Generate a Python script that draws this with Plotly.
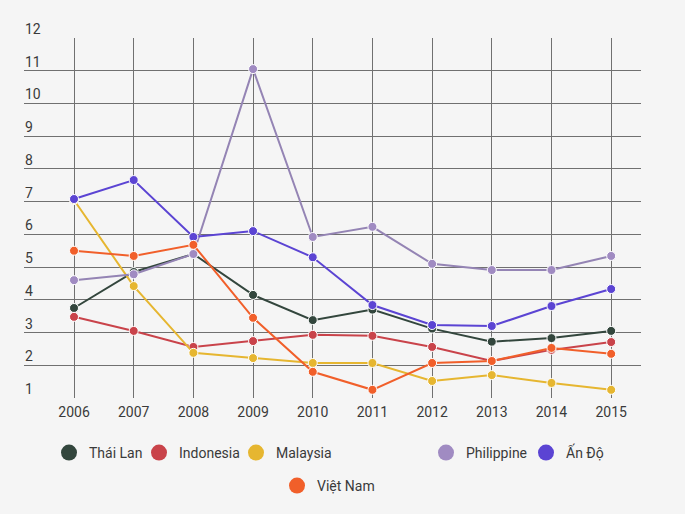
import plotly.graph_objects as go

years = ["2006", "2007", "2008", "2009", "2010", "2011", "2012", "2013", "2014", "2015"]
thai_lan = [3.75, 4.85, 5.4, 4.15, 3.38, 3.7, 3.12, 2.72, 2.83, 3.05]
indonesia = [3.48, 3.05, 2.56, 2.74, 2.93, 2.9, 2.56, 2.13, 2.47, 2.71]
malaysia = [7.05, 4.42, 2.38, 2.22, 2.07, 2.07, 1.52, 1.7, 1.46, 1.25]
philippine = [4.6, 4.78, 5.4, 11.05, 5.92, 6.23, 5.1, 4.91, 4.91, 5.34]
an_do = [7.08, 7.66, 5.92, 6.1, 5.3, 3.84, 3.23, 3.2, 3.81, 4.33]
viet_nam = [5.5, 5.34, 5.68, 3.45, 1.8, 1.25, 2.07, 2.13, 2.53, 2.35]
y_ticks = [1, 2, 3, 4, 5, 6, 7, 8, 9, 10, 11, 12]

series = [
    ("Thái Lan", thai_lan, "#33463d", "#33463d"),
    ("Indonesia", indonesia, "#c9434a", "#c9434a"),
    ("Malaysia", malaysia, "#e6b630", "#e6b630"),
    ("Philippine", philippine, "#a08bc2", "#9484b4"),
    ("Ấn Độ", an_do, "#5b44d3", "#5b44d3"),
    ("Việt Nam", viet_nam, "#f15f2a", "#f15f2a"),
]

TEXT = "#3a3a3a"
FS = 14
W, H = 685, 514
L, R, T, B = 24, 44, 38, 116
pw = W - L - R
ph = H - T - B

def px_x(p):
    return (p - L) / pw

def px_y(p):
    return (H - B - p) / ph

# legend entry positions (symbol centre in pixels)
legend_pos = [(70, 453), (160, 453), (257, 453), (447, 453), (547, 453), (298, 486)]

fig = go.Figure()
for name, vals, mcol, lcol in series:
    fig.add_trace(go.Scatter(
        x=years, y=vals, mode="lines+markers", name=name, showlegend=False,
        line=dict(color=lcol, width=2),
        marker=dict(color=mcol, size=9, line=dict(color="white", width=1)),
        hoverinfo="x+y+name",
    ))

legend_layouts = {}
for i, (name, vals, mcol, lcol) in enumerate(series):
    key = "legend" if i == 0 else f"legend{i+1}"
    fig.add_trace(go.Scatter(
        x=[None], y=[None], mode="markers", name=name, legend=key,
        marker=dict(color=mcol, size=16),
    ))
    cx, cy = legend_pos[i]
    legend_layouts[key] = dict(
        x=px_x(cx - 21), y=px_y(cy), xanchor="left", yanchor="middle",
        bgcolor="rgba(0,0,0,0)", borderwidth=0,
        font=dict(family="Roboto", size=FS, color=TEXT),
        tracegroupgap=0, itemwidth=30,
    )

annotations = [
    dict(x=0, xref="paper", y=v, yref="y", text=str(v), showarrow=False,
         xanchor="left", yanchor="middle", xshift=-1, yshift=9,
         font=dict(family="Roboto", size=FS, color=TEXT))
    for v in y_ticks
]

fig.update_layout(
    width=W, height=H,
    margin=dict(l=L, r=R, t=T, b=B, pad=0),
    paper_bgcolor="#f5f5f5", plot_bgcolor="#f5f5f5",
    font=dict(family="Roboto", size=FS, color=TEXT),
    showlegend=True,
    annotations=annotations,
    **legend_layouts,
)
fig.update_xaxes(
    type="category", range=[-0.838, 9.5], showgrid=True, gridcolor="#707070", gridwidth=1,
    zeroline=False, showline=False, ticks="", ticklabelstandoff=4,
    tickfont=dict(family="Roboto", size=FS, color=TEXT),
)
fig.update_yaxes(
    range=[1, 12], tickvals=y_ticks, showticklabels=False,
    showgrid=True, gridcolor="#707070", gridwidth=1, zeroline=False, showline=False,
    ticks="",
)
fig.write_html("out.html", config={"displayModeBar": False},
               post_script="document.body.style.margin='0';")
